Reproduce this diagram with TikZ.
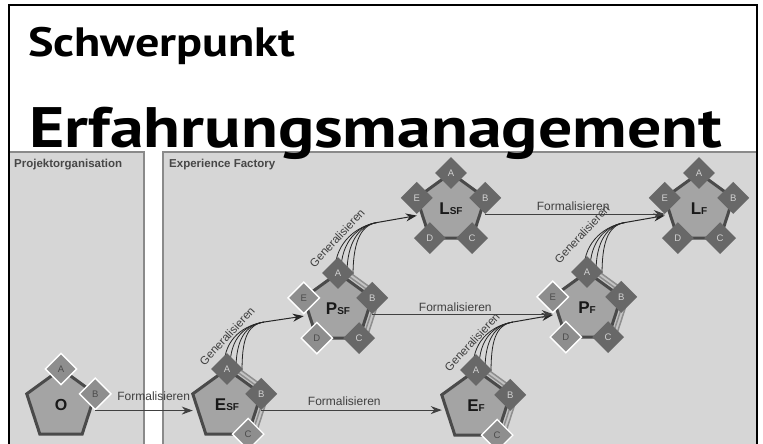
\documentclass[tikz,border=0pt]{standalone}
\usepackage{fontspec}
\usepackage{graphicx}
\setmainfont{Liberation Sans}
\newfontfamily\titlefont{PT Sans}
\usetikzlibrary{shapes.geometric,arrows.meta,calc}
\pgfdeclarelayer{panels}
\pgfdeclarelayer{links}
\pgfsetlayers{panels,links,main}
\definecolor{panelfill}{HTML}{D6D6D6}
\definecolor{panelline}{HTML}{8A8A8A}
\definecolor{pentfill}{HTML}{A4A4A4}
\definecolor{pentline}{HTML}{4A4A4A}
\definecolor{stackfill}{HTML}{C4C4C4}
\definecolor{stackline}{HTML}{8E8E8E}
\definecolor{darkdia}{HTML}{686868}
\definecolor{lightdia}{HTML}{8E8E8E}
\definecolor{labgray}{HTML}{404040}
\newcommand{\pentlab}[2]{{\fontsize{17}{17}\selectfont\bfseries #1}{\fontsize{10}{10}\selectfont\bfseries #2}}
\tikzset{
  pentbase/.style={regular polygon, regular polygon sides=5, minimum size=72pt, inner sep=0pt, outer sep=0pt},
  pent/.style={pentbase, fill=pentfill, draw=pentline, line width=3pt, text=black!90},
  stackbox/.style={pentbase, fill=stackfill, draw=stackline, line width=1.5pt},
  darkdiamond/.style={diamond, minimum size=32pt, inner sep=0pt, fill=darkdia, text=white!82!black, font=\fontsize{9.5}{9.5}\selectfont},
  lightdiamond/.style={diamond, minimum size=32pt, inner sep=0pt, fill=lightdia, draw=white, line width=1.4pt, text=black!70, font=\fontsize{9.5}{9.5}\selectfont},
  formarrow/.style={draw=black!75, line width=1.1pt, -{Stealth[length=11pt,width=8pt]}},
  genline/.style={draw=black!85, line width=0.8pt},
  genarrow/.style={draw=black!85, line width=1pt, -{Stealth[length=11pt,width=8pt]}},
  formlabel/.style={font=\fontsize{12}{12}\selectfont, text=labgray, inner sep=0pt},
  genlabel/.style={font=\fontsize{11.5}{11.5}\selectfont, text=labgray, inner sep=0pt, rotate=47},
  panel/.style={fill=panelfill, draw=panelline, line width=1.2pt},
  frame/.style={draw=black, line width=1.4pt},
  panellabel/.style={font=\fontsize{11.5}{11.5}\selectfont\bfseries, text=black!72, anchor=west, inner sep=0pt},
  titletext/.style={anchor=base west, inner sep=0pt},
}
\begin{document}
\begin{tikzpicture}[x=1pt,y=1pt]
\path[use as bounding box] (0,0) rectangle (763,444);
\begin{pgfonlayer}{panels}
\fill[white] (-1,-1) rectangle (764,445);
\draw[panel] (9,-5) rectangle (144,292);
\draw[panel] (163,-5) rectangle (757,292);
\end{pgfonlayer}
\draw[frame] (9,-5) -- (9,439) -- (757,439) -- (757,-5);

% titles
\node[titletext] (t1) at (28,387) {\resizebox{267pt}{\height}{\titlefont\bfseries\fontsize{41}{41}\selectfont Schwerpunkt}};
\node[titletext] (t2) at (29,296) {\resizebox{693pt}{\height}{\titlefont\bfseries\fontsize{57}{57}\selectfont Erfahrungsmanagement}};

% panel labels
\node[panellabel] (lp1) at (14,279) {Projektorganisation};
\node[panellabel] (lp2) at (169,279) {Experience Factory};

% stacked copies
\node[stackbox] (esfS2) at ($(227,39)+(18:9)$) {};
\node[stackbox] (esfS1) at ($(227,39)+(18:4.5)$) {};
\node[stackbox] (psfS2) at ($(338,135)+(18:9)$) {};
\node[stackbox] (psfS1) at ($(338,135)+(18:4.5)$) {};
\node[stackbox] (efS2) at ($(476,38)+(18:9)$) {};
\node[stackbox] (efS1) at ($(476,38)+(18:4.5)$) {};
\node[stackbox] (pfS2) at ($(587,136)+(18:9)$) {};
\node[stackbox] (pfS1) at ($(587,136)+(18:4.5)$) {};

% pentagons
\node[pent] (o) at (61,39) {{\fontsize{16}{16}\selectfont\bfseries O}};
\node[pent] (esf) at (227,39) {\pentlab{E}{SF}};
\node[pent] (psf) at (338,135) {\pentlab{P}{SF}};
\node[pent] (lsf) at (451,235) {\pentlab{L}{SF}};
\node[pent] (ef) at (476,38) {\pentlab{E}{F}};
\node[pent] (pf) at (587,136) {\pentlab{P}{F}};
\node[pent] (lf) at (699,235) {\pentlab{L}{F}};

% diamonds
\node[lightdiamond] (oA) at (o.corner 1) {A};
\node[lightdiamond] (oB) at (o.corner 5) {B};

\node[darkdiamond] (esfA) at (esf.corner 1) {A};
\node[darkdiamond] (esfB) at (esf.corner 5) {B};
\node[lightdiamond] (esfC) at (esf.corner 4) {C};

\node[darkdiamond] (psfA) at (psf.corner 1) {A};
\node[darkdiamond] (psfB) at (psf.corner 5) {B};
\node[darkdiamond] (psfC) at (psf.corner 4) {C};
\node[lightdiamond] (psfD) at (psf.corner 3) {D};
\node[lightdiamond] (psfE) at (psf.corner 2) {E};

\node[darkdiamond] (lsfA) at (lsf.corner 1) {A};
\node[darkdiamond] (lsfB) at (lsf.corner 5) {B};
\node[darkdiamond] (lsfC) at (lsf.corner 4) {C};
\node[darkdiamond] (lsfD) at (lsf.corner 3) {D};
\node[darkdiamond] (lsfE) at (lsf.corner 2) {E};

\node[darkdiamond] (efA) at (ef.corner 1) {A};
\node[darkdiamond] (efB) at (ef.corner 5) {B};
\node[lightdiamond] (efC) at (ef.corner 4) {C};

\node[darkdiamond] (pfA) at (pf.corner 1) {A};
\node[darkdiamond] (pfB) at (pf.corner 5) {B};
\node[darkdiamond] (pfC) at (pf.corner 4) {C};
\node[lightdiamond] (pfD) at (pf.corner 3) {D};
\node[lightdiamond] (pfE) at (pf.corner 2) {E};

\node[darkdiamond] (lfA) at (lf.corner 1) {A};
\node[darkdiamond] (lfB) at (lf.corner 5) {B};
\node[darkdiamond] (lfC) at (lf.corner 4) {C};
\node[darkdiamond] (lfD) at (lf.corner 3) {D};
\node[darkdiamond] (lfE) at (lf.corner 2) {E};

% arrow targets
\coordinate (psfIn) at ($(psfE.south)+(0,-1.5)$);
\coordinate (lsfIn) at ($(lsfE.south)+(0,-1.5)$);
\coordinate (pfIn) at ($(pfE.south)+(0,-1.5)$);
\coordinate (lfIn) at ($(lfE.south)+(0,-1.5)$);
\coordinate (g1m) at ($(psfIn)+(-40,-6)$);
\coordinate (g2m) at ($(lsfIn)+(-40,-7)$);
\coordinate (g3m) at ($(pfIn)+(-40,-7)$);
\coordinate (g4m) at ($(lfIn)+(-40,-7)$);

% Generalisieren
\begin{pgfonlayer}{links}
\foreach \dx/\dy in {-3/2,3/2,9/0,15/-3}{
  \draw[genline] ($(esfA)+(\dx,\dy)$) .. controls ($(esfA)+(\dx,\dy+30)$) and ($(g1m)+(-18,-3)$) .. (g1m);
  \draw[genline] ($(psfA)+(\dx,\dy)$) .. controls ($(psfA)+(\dx,\dy+30)$) and ($(g2m)+(-18,-3)$) .. (g2m);
  \draw[genline] ($(efA)+(\dx,\dy)$) .. controls ($(efA)+(\dx,\dy+30)$) and ($(g3m)+(-18,-3)$) .. (g3m);
  \draw[genline] ($(pfA)+(\dx,\dy)$) .. controls ($(pfA)+(\dx,\dy+30)$) and ($(g4m)+(-18,-3)$) .. (g4m);
}
\draw[genarrow] (g1m) -- (psfIn);
\draw[genarrow] (g2m) -- (lsfIn);
\draw[genarrow] (g3m) -- (pfIn);
\draw[genarrow] (g4m) -- (lfIn);
\end{pgfonlayer}
\node[genlabel] (gl1) at ($(esfA)+(0,33)$) {Generalisieren};
\node[genlabel] (gl2) at ($(psfA)+(-1,35)$) {Generalisieren};
\node[genlabel] (gl3) at ($(efA)+(-4,28)$) {Generalisieren};
\node[genlabel] (gl4) at ($(pfA)+(-5,38)$) {Generalisieren};

% Formalisieren
\draw[formarrow] (oB.south) -- (oB.south -| esf.corner 2) node[formlabel, pos=0.6, yshift=14pt] (fl1) {Formalisieren};
\draw[formarrow] (esfB.south) -- (esfB.south -| ef.corner 2) node[formlabel, pos=0.46, yshift=9pt] (fl2) {Formalisieren};
\draw[formarrow] (psfB.south) -- (psfB.south -| pfIn) node[formlabel, pos=0.46, yshift=7pt] (fl3) {Formalisieren};
\draw[formarrow] (lsfB.south) -- (lsfB.south -| lfIn) node[formlabel, pos=0.49, yshift=8pt] (fl4) {Formalisieren};
\end{tikzpicture}
\end{document}
